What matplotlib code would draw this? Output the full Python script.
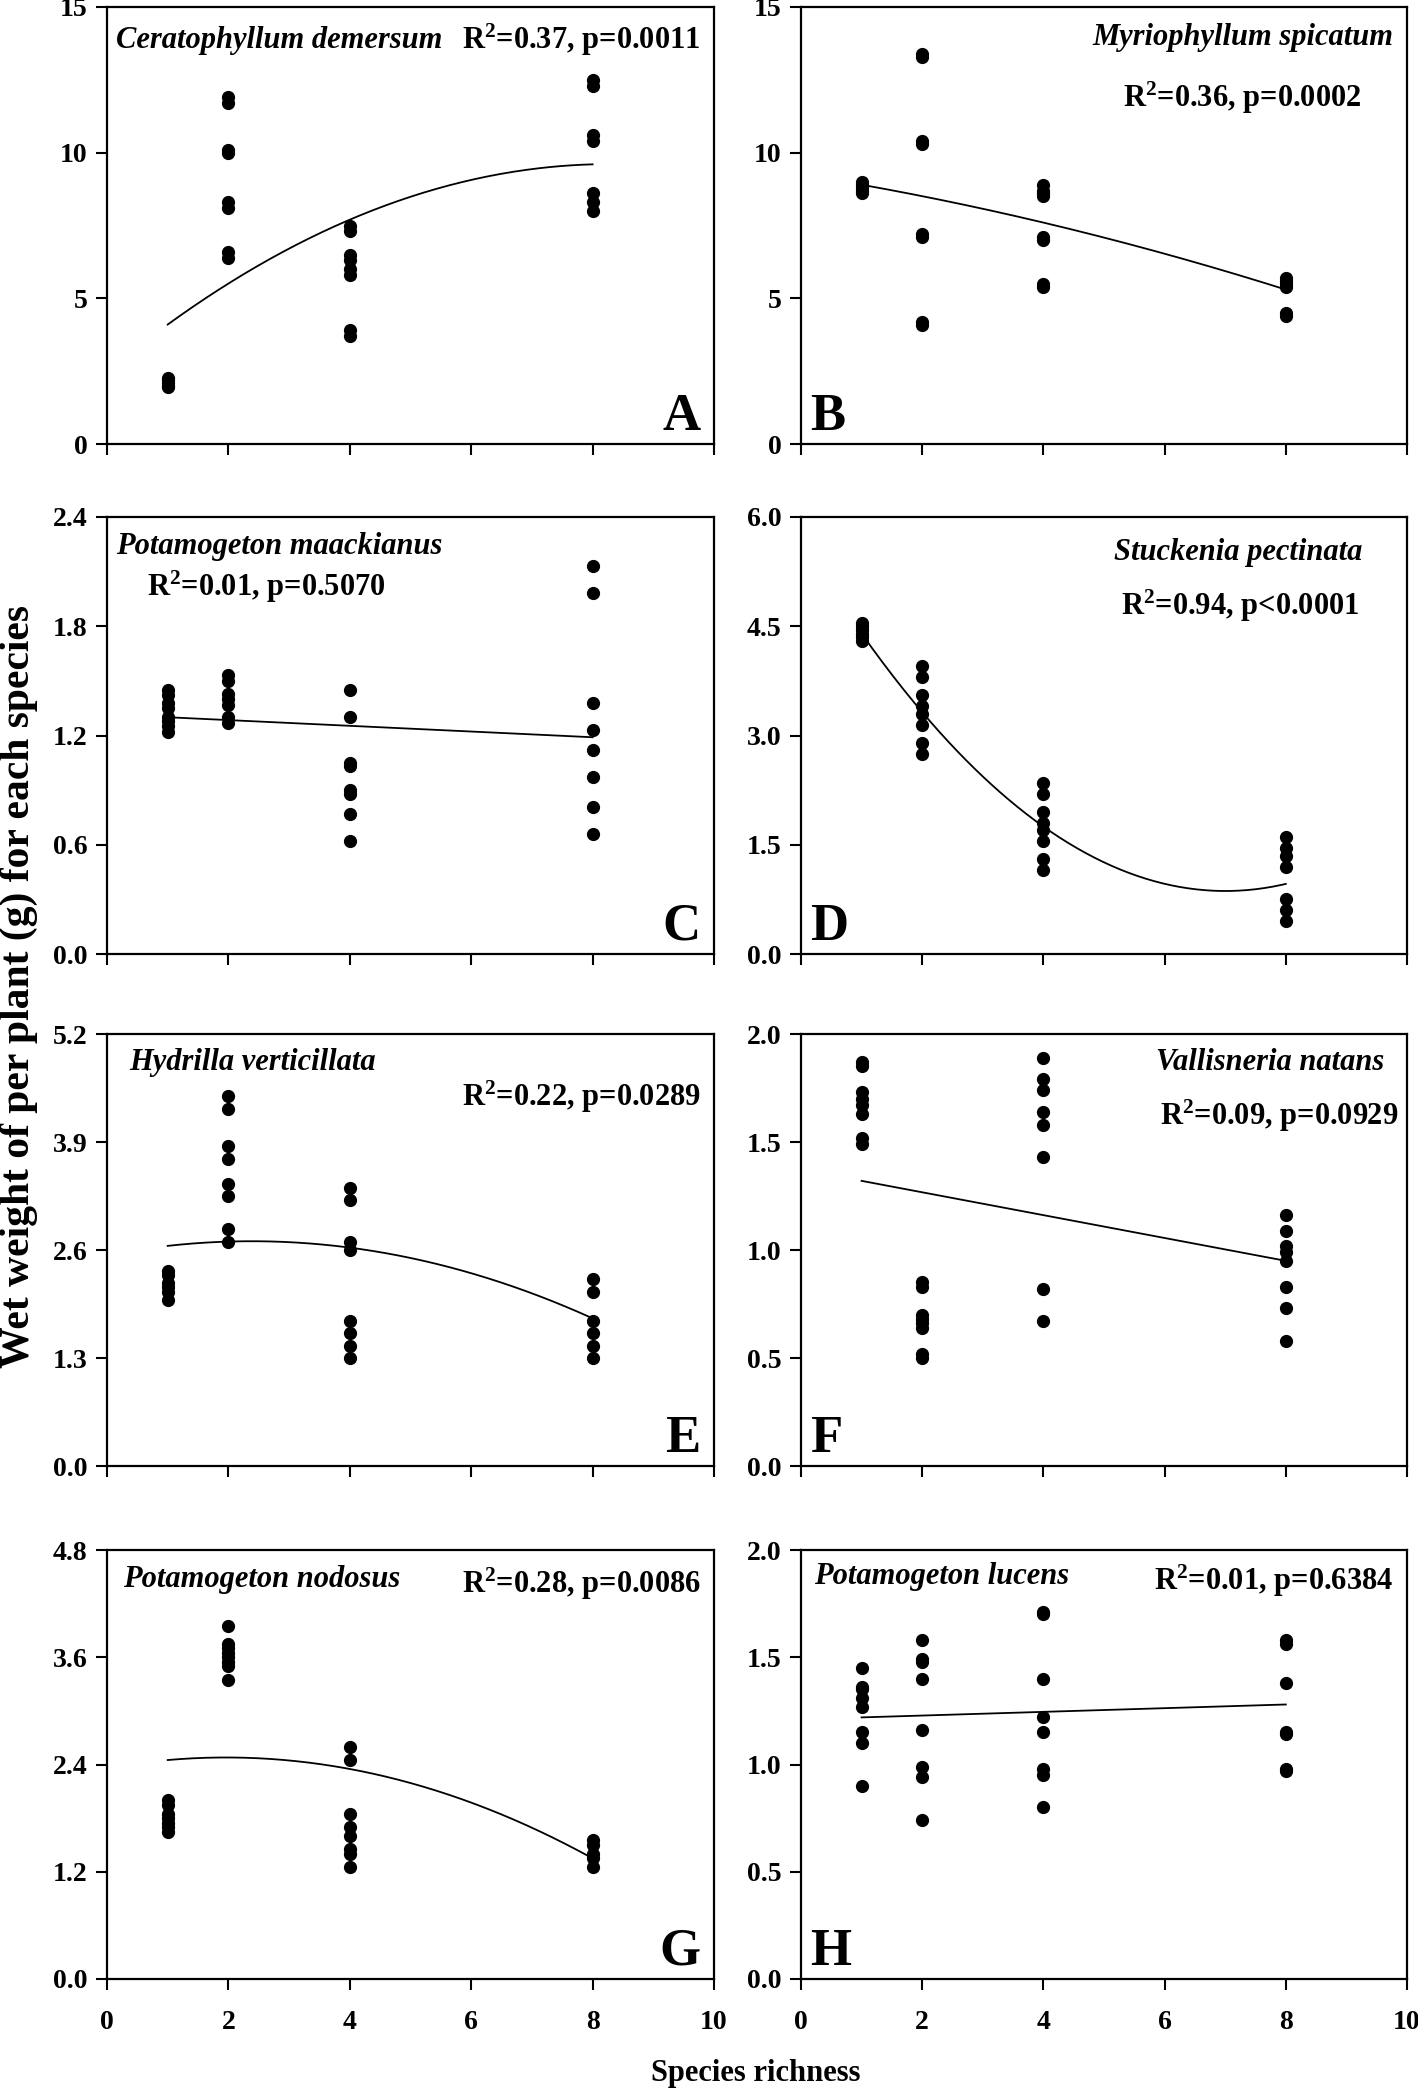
import numpy as np
import matplotlib
matplotlib.use("Agg")
import matplotlib.pyplot as plt

plt.rcParams['font.family'] = ['Liberation Serif', 'DejaVu Serif']
plt.rcParams['font.weight'] = 'bold'
plt.rcParams['mathtext.fontset'] = 'custom'
plt.rcParams['mathtext.rm'] = 'Liberation Serif:bold'
plt.rcParams['mathtext.it'] = 'Liberation Serif:bold'

richness = [1, 2, 4, 8]

# wet weight per plant (g), one list per richness level
a_vals = [[1.95, 2.0, 2.1, 2.2, 2.25],
          [11.9, 11.7, 10.1, 10.0, 8.3, 8.1, 6.6, 6.4],
          [7.5, 7.3, 6.5, 6.3, 6.0, 5.8, 3.9, 3.7],
          [12.5, 12.3, 10.6, 10.4, 8.6, 8.3, 8.0]]
b_vals = [[9.0, 8.9, 8.8, 8.7, 8.6],
          [13.4, 13.3, 10.4, 10.3, 7.2, 7.1, 4.2, 4.1],
          [8.9, 8.7, 8.6, 8.5, 7.1, 7.0, 5.5, 5.4],
          [5.7, 5.6, 5.5, 5.4, 4.5, 4.4]]
c_vals = [[1.45, 1.42, 1.38, 1.35, 1.30, 1.28, 1.25, 1.22],
          [1.53, 1.50, 1.43, 1.40, 1.37, 1.30, 1.27],
          [1.45, 1.30, 1.05, 1.03, 0.90, 0.88, 0.77, 0.62],
          [2.13, 1.98, 1.38, 1.23, 1.12, 0.97, 0.81, 0.66]]
d_vals = [[4.55, 4.5, 4.45, 4.4, 4.35, 4.3],
          [3.95, 3.8, 3.55, 3.4, 3.3, 3.15, 2.9, 2.75],
          [2.35, 2.2, 1.95, 1.8, 1.7, 1.55, 1.3, 1.15],
          [1.6, 1.45, 1.35, 1.2, 0.75, 0.6, 0.45]]
e_vals = [[2.35, 2.3, 2.2, 2.15, 2.1, 2.0],
          [4.45, 4.3, 3.85, 3.7, 3.4, 3.25, 2.85, 2.7],
          [3.35, 3.2, 2.7, 2.6, 1.75, 1.6, 1.45, 1.3],
          [2.25, 2.1, 1.75, 1.6, 1.45, 1.3]]
f_vals = [[1.87, 1.85, 1.73, 1.70, 1.67, 1.63, 1.52, 1.49],
          [0.85, 0.83, 0.70, 0.68, 0.66, 0.64, 0.52, 0.50],
          [1.89, 1.79, 1.74, 1.64, 1.58, 1.43, 0.82, 0.67],
          [1.16, 1.09, 1.02, 0.99, 0.95, 0.83, 0.73, 0.58]]
g_vals = [[2.0, 1.95, 1.85, 1.8, 1.75, 1.7, 1.65],
          [3.95, 3.75, 3.7, 3.65, 3.6, 3.55, 3.5, 3.35],
          [2.6, 2.45, 1.85, 1.7, 1.6, 1.45, 1.4, 1.25],
          [1.55, 1.5, 1.4, 1.35, 1.25]]
h_vals = [[1.45, 1.36, 1.35, 1.31, 1.27, 1.15, 1.10, 0.90],
          [1.58, 1.49, 1.48, 1.40, 1.16, 0.99, 0.94, 0.74],
          [1.71, 1.70, 1.40, 1.22, 1.15, 0.98, 0.95, 0.80],
          [1.58, 1.56, 1.38, 1.15, 1.14, 0.98, 0.97]]

# regression curves (c0 + c1*x + c2*x^2)
a_fit = [2.486, 1.718, -0.1036]
b_fit = [9.252, -0.332, -0.02025]
c_fit = [1.316, -0.0157, 0.0]
d_fit = [5.676, -1.374, 0.0981]
e_fit = [2.539, 0.140, -0.0294]
f_fit = [1.373, -0.0529, 0.0]
g_fit = [2.3595, 0.1214, -0.03095]
h_fit = [1.211, 0.0086, 0.0]

species = ['Ceratophyllum demersum', 'Myriophyllum spicatum', 'Potamogeton maackianus',
           'Stuckenia pectinata', 'Hydrilla verticillata', 'Vallisneria natans',
           'Potamogeton nodosus', 'Potamogeton lucens']
stats = ['0.37, p=0.0011', '0.36, p=0.0002', '0.01, p=0.5070', '0.94, p<0.0001',
         '0.22, p=0.0289', '0.09, p=0.0929', '0.28, p=0.0086', '0.01, p=0.6384']
letters = ['A', 'B', 'C', 'D', 'E', 'F', 'G', 'H']
ymax = [15, 15, 2.4, 6.0, 5.2, 2.0, 4.8, 2.0]
ystep = [5, 5, 0.6, 1.5, 1.3, 0.5, 1.2, 0.5]
yfmt = ['%d', '%d', '%.1f', '%.1f', '%.1f', '%.1f', '%.1f', '%.1f']
all_vals = [a_vals, b_vals, c_vals, d_vals, e_vals, f_vals, g_vals, h_vals]
all_fits = [a_fit, b_fit, c_fit, d_fit, e_fit, f_fit, g_fit, h_fit]

# text placement (axes fraction): species (x, y, ha), stats (x, y, ha)
sp_pos = [(0.015, 0.924, 'left'), (0.978, 0.93, 'right'), (0.015, 0.933, 'left'),
          (0.927, 0.918, 'right'), (0.037, 0.935, 'left'), (0.963, 0.935, 'right'),
          (0.026, 0.932, 'left'), (0.022, 0.938, 'left')]
st_pos = [(0.978, 0.924, 'right'), (0.729, 0.793, 'center'), (0.066, 0.84, 'left'),
          (0.725, 0.796, 'center'), (0.978, 0.855, 'right'), (0.985, 0.81, 'right'),
          (0.978, 0.922, 'right'), (0.978, 0.929, 'right')]

fig = plt.figure(figsize=(14.18, 20.90), dpi=100)

col_x = [107 / 1418, 801 / 1418]
col_w = [607 / 1418, 606 / 1418]
row_top = [7, 517, 1034, 1550]
row_bot = [444, 954, 1466, 1979]

for i in range(8):
    r, c = i // 2, i % 2
    bottom = 1 - row_bot[r] / 2090
    height = (row_bot[r] - row_top[r]) / 2090
    ax = fig.add_axes([col_x[c], bottom, col_w[c], height])

    for xv, ys in zip(richness, all_vals[i]):
        ax.plot([xv] * len(ys), ys, 'o', color='black', ms=8.5, ls='None')

    xs = np.linspace(1, 8, 200)
    cf = all_fits[i]
    ax.plot(xs, cf[0] + cf[1] * xs + cf[2] * xs ** 2, color='black', lw=1.3)

    ax.set_xlim(0, 10)
    ax.set_ylim(0, ymax[i])
    ax.set_xticks([0, 2, 4, 6, 8, 10])
    ax.set_yticks(np.arange(0, ymax[i] + 1e-6, ystep[i]))
    ax.set_yticklabels([yfmt[i] % v for v in np.arange(0, ymax[i] + 1e-6, ystep[i])])
    if r < 3:
        ax.set_xticklabels([])
    ax.tick_params(direction='out', length=8, width=1.5, labelsize=20, pad=6)
    ax.tick_params(axis='x', pad=14)
    for sp in ax.spines.values():
        sp.set_linewidth(1.6)

    sx, sy, sha = sp_pos[i]
    ax.text(sx, sy, species[i], transform=ax.transAxes, ha=sha, va='center',
            fontsize=22, style='italic', fontweight='bold')
    tx, ty, tha = st_pos[i]
    ax.text(tx, ty, 'R$^{2}$=' + stats[i], transform=ax.transAxes, ha=tha,
            va='center', fontsize=22, fontweight='bold')
    if c == 0:
        ax.text(0.978, 0.008, letters[i], transform=ax.transAxes, ha='right',
                va='bottom', fontsize=38, fontweight='bold')
    else:
        ax.text(0.015, 0.008, letters[i], transform=ax.transAxes, ha='left',
                va='bottom', fontsize=38, fontweight='bold')

fig.text(0.013, 0.528, 'Wet weight of per plant (g) for each species', rotation=90,
         ha='center', va='center', fontsize=30, fontweight='bold')
fig.text(0.533, 0.008, 'Species richness', ha='center', va='center',
         fontsize=22, fontweight='bold')

fig.savefig('out.png', dpi=100)
